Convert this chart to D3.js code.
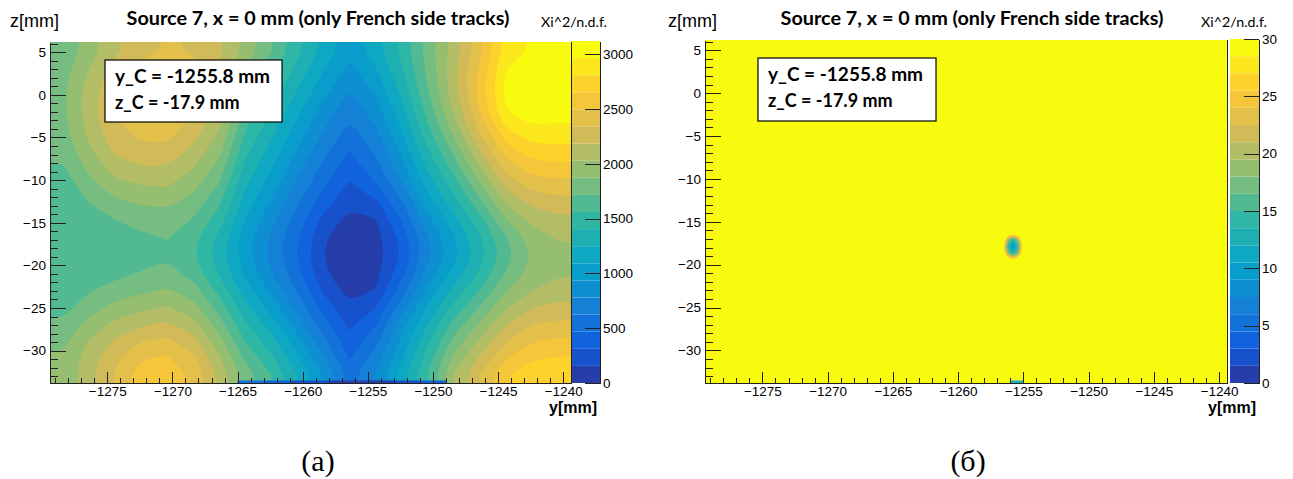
<!DOCTYPE html>
<html>
<head>
<meta charset="utf-8">
<script src="https://cdn.jsdelivr.net/npm/d3@7"></script>
<style>
  body { margin: 0; background: #fff; }
  svg { display: block; }
  .axis text { font-family: "Liberation Sans", Arial, sans-serif; font-size: 13.5px; fill: #000; }
  .axis line, .axis path { stroke: #222; shape-rendering: crispEdges; }
</style>
</head>
<body>
<svg width="1293" height="479"></svg>
<script>
// ---- data ----
const yRange = [-1279.4, -1239.4];   // y[mm] shown on the x axis
const zRange = [-33.8, 6.2];         // z[mm]
const yMajorTicks = [-1275, -1270, -1265, -1260, -1255, -1250, -1245, -1240];
const zMajorTicks = [-30, -25, -20, -15, -10, -5, 0, 5];
const barTicksA = [0, 500, 1000, 1500, 2000, 2500, 3000];
const barTicksB = [0, 5, 10, 15, 20, 25, 30];
const zMaxA = 3120;
const zMaxB = 30;
const nLevels = 20;

// chi2/ndf on a 20 x 20 grid (2 mm cells), rows from z = 5.2 (top) down to z = -32.8,
// columns from y = -1278.4 to y = -1240.4
const chi2Grid = [
  [1750, 1950, 2150, 2300, 2350, 2330, 2200, 1980, 1720, 1450, 1200,  990, 1180, 1450, 1780, 2100, 2450, 2880, 2980, 3000],
  [1800, 2020, 2240, 2380, 2420, 2380, 2210, 1890, 1630, 1360, 1110,  900, 1090, 1390, 1760, 2130, 2520, 2950, 3080, 3060],
  [1830, 2080, 2310, 2430, 2460, 2400, 2200, 1800, 1540, 1270, 1020,  810, 1000, 1320, 1720, 2130, 2560, 3000, 3110, 3080],
  [1840, 2110, 2340, 2450, 2470, 2380, 2160, 1710, 1450, 1180,  930,  720,  910, 1240, 1660, 2090, 2540, 2990, 3090, 3060],
  [1830, 2100, 2330, 2430, 2440, 2320, 2090, 1620, 1360, 1090,  840,  630,  820, 1150, 1580, 2000, 2450, 2920, 3010, 2990],
  [1800, 2060, 2280, 2370, 2380, 2230, 2000, 1530, 1270, 1000,  750,  545,  730, 1060, 1480, 1880, 2320, 2720, 2880, 2880],
  [1750, 1990, 2200, 2280, 2280, 2130, 1900, 1440, 1180,  910,  660,  455,  640,  960, 1370, 1740, 2160, 2560, 2720, 2740],
  [1690, 1900, 2090, 2160, 2160, 2020, 1800, 1350, 1090,  820,  570,  365,  550,  860, 1260, 1600, 2000, 2380, 2550, 2580],
  [1620, 1800, 1960, 2020, 2030, 1910, 1690, 1260, 1000,  730,  480,  275,  440,  740, 1140, 1460, 1830, 2200, 2380, 2420],
  [1600, 1710, 1830, 1880, 1900, 1800, 1580, 1170,  910,  640,  370,  185,  260,  580, 1010, 1320, 1660, 2020, 2210, 2270],
  [1570, 1640, 1710, 1760, 1790, 1700, 1470, 1080,  820,  550,  260,  100,  140,  470,  880, 1180, 1500, 1850, 2060, 2140],
  [1560, 1620, 1640, 1690, 1720, 1610, 1360, 1010,  750,  480,  175,   35,   90,  360,  770, 1070, 1380, 1700, 1940, 2040],
  [1560, 1610, 1620, 1670, 1700, 1580, 1320, 1000,  730,  460,  160,   15,   80,  330,  740, 1040, 1340, 1650, 1890, 1990],
  [1570, 1640, 1670, 1720, 1760, 1650, 1380, 1060,  790,  510,  180,   35,  100,  400,  830, 1130, 1420, 1720, 1930, 2010],
  [1600, 1700, 1770, 1830, 1880, 1780, 1500, 1160,  890,  600,  280,   90,  160,  540,  960, 1280, 1560, 1850, 2020, 2090],
  [1650, 1800, 1910, 1980, 2030, 1920, 1640, 1290, 1020,  720,  400,  175,  300,  700, 1100, 1440, 1720, 2000, 2170, 2220],
  [1740, 1920, 2060, 2150, 2200, 2080, 1780, 1420, 1160,  850,  530,  265,  450,  860, 1240, 1600, 1890, 2160, 2330, 2370],
  [1830, 2030, 2200, 2330, 2370, 2240, 1920, 1550, 1300,  990,  660,  355,  570,  970, 1370, 1760, 2050, 2320, 2480, 2520],
  [1890, 2110, 2310, 2480, 2510, 2380, 2040, 1680, 1430, 1120,  790,  455,  690, 1070, 1480, 1900, 2200, 2480, 2630, 2660],
  [1900, 2130, 2350, 2590, 2590, 2460, 2150, 1800, 1560, 1250,  930,  560,  790, 1170, 1560, 2030, 2340, 2640, 2750, 2780]
];

// fine grid around the minimum (0.4 mm x 0.8 mm cells), used on the 0..30 scale
const spotY = [-1257.4, -1257.0, -1256.6, -1256.2, -1255.8, -1255.4, -1255.0, -1254.6, -1254.2];
const spotZ = [-14.7, -15.5, -16.3, -17.1, -17.9, -18.7, -19.5, -20.3, -21.1];
const spotGrid = [
  [179, 140, 113,  96,  91,  96, 113, 140, 179],
  [143, 104,  77,  60,  55,  60,  77, 104, 143],
  [117,  78,  51,  34,  29,  34,  51,  78, 117],
  [101,  63,  35,  19,  13,  19,  35,  63, 101],
  [ 96,  58,  30,  14,   8,  14,  30,  58,  96],
  [101,  63,  35,  19,  13,  19,  35,  63, 101],
  [117,  78,  51,  34,  29,  34,  51,  78, 117],
  [143, 104,  77,  60,  55,  60,  77, 104, 143],
  [179, 140, 113,  96,  91,  96, 113, 140, 179]
];

// last (thin) z row along the bottom edge, 1 mm bins
const edgeY = [-1264.5, -1263.5, -1262.5, -1261.5, -1260.5, -1259.5, -1258.5, -1257.5,
               -1256.5, -1255.5, -1254.5, -1253.5, -1252.5, -1251.5, -1250.5, -1249.5];
const edgeVal = [600, 500, 420, 350, 290, 230, 170, 110, 55, 12, 50, 110, 180, 260, 350, 450];

const titleText = "Source 7, x = 0 mm (only French side tracks)";
const boxLines = ["y_C = -1255.8 mm", "z_C = -17.9 mm"];

// ROOT kBird palette
const bird = d3.scaleLinear()
  .domain([0, 0.125, 0.25, 0.375, 0.5, 0.625, 0.75, 0.875, 1])
  .range(["#352a87", "#0f5cdd", "#1481d6", "#06a4ca", "#2eb7a4", "#87bf77", "#d1bb59", "#fec832", "#f9fb0e"]);
const bandColor = (i) => bird((i + 1) / nLevels);

const svg = d3.select("svg");

const panels = [
  { id: "a", left: 50, right: 571, top: 42, bottom: 383, barL: 571, barR: 600, zMax: zMaxA, barTicks: barTicksA,
    tag: "(a)", tagX: 318, titleX: 318, zLabX: 10, xiX: 541, box: [105, 60, 177, 62], fine: false },
  { id: "b", left: 705, right: 1227, top: 40, bottom: 383, barL: 1230, barR: 1259, zMax: zMaxB, barTicks: barTicksB,
    tag: "(б)", tagX: 968, titleX: 972, zLabX: 668, xiX: 1201, box: [758, 58, 178, 63], fine: true }
];

function fitWidth(sel, w) {
  const fs = parseFloat(sel.attr("font-size"));
  const len = sel.node().getComputedTextLength();
  sel.attr("font-size", (fs * w / len).toFixed(2));
}

// repeat the border cells once so the contours run cleanly out of the frame
function padGrid(rows) {
  const r = rows.map((row) => [row[0], ...row, row[row.length - 1]]);
  return [r[0], ...r, r[r.length - 1]];
}

// rounded outline for each ring of a contour
function ringPath(line) {
  return (poly) => poly.map((ring) => line(ring.slice(0, -1))).join("");
}

panels.forEach((p) => {
  const x = d3.scaleLinear().domain(yRange).range([p.left, p.right]);
  const y = d3.scaleLinear().domain(zRange).range([p.bottom, p.top]);
  const step = p.zMax / nLevels;
  const thresholds = d3.range(nLevels).map((i) => i * step);
  const colorOf = (v) => bandColor(Math.max(0, Math.min(nLevels - 1, Math.floor(v / step))));

  svg.append("clipPath").attr("id", "clip-" + p.id)
    .append("rect").attr("x", p.left).attr("y", p.top)
    .attr("width", p.right - p.left).attr("height", p.bottom - p.top);
  const g = svg.append("g").attr("clip-path", `url(#clip-${p.id})`);

  if (!p.fine) {
    // full chi2 map
    const grid = padGrid(chi2Grid);
    const nCols = grid[0].length, nRows = grid.length;
    const cy = (yRange[1] - yRange[0]) / chi2Grid[0].length;
    const cz = (zRange[1] - zRange[0]) / chi2Grid.length;
    const gx = d3.scaleLinear().domain([0, nCols]).range([yRange[0] - cy, yRange[1] + cy]);
    const gz = d3.scaleLinear().domain([0, nRows]).range([zRange[1] + cz, zRange[0] - cz]);
    const line = d3.line().curve(d3.curveBasisClosed)
      .x((d) => x(gx(d[0]))).y((d) => y(gz(d[1])));
    const cs = d3.contours().size([nCols, nRows]).thresholds(thresholds)(grid.flat());
    g.append("rect")
      .attr("x", p.left).attr("y", p.top)
      .attr("width", p.right - p.left).attr("height", p.bottom - p.top)
      .attr("fill", bandColor(0));
    g.selectAll("path.lvl").data(cs).enter().append("path")
      .attr("class", "lvl")
      .attr("fill-rule", "evenodd")
      .attr("d", (d) => d.coordinates.map(ringPath(line)).join(""))
      .attr("fill", (d, i) => bandColor(i));
  } else {
    // everything here is above 30 -> top colour, only the minimum shows
    g.append("rect")
      .attr("x", p.left).attr("y", p.top)
      .attr("width", p.right - p.left).attr("height", p.bottom - p.top)
      .attr("fill", bandColor(nLevels - 1));
    const dy = spotY[1] - spotY[0], dz = spotZ[0] - spotZ[1];
    const gx = d3.scaleLinear().domain([0, spotY.length]).range([spotY[0] - dy / 2, spotY[spotY.length - 1] + dy / 2]);
    const gz = d3.scaleLinear().domain([0, spotZ.length]).range([spotZ[0] + dz / 2, spotZ[spotZ.length - 1] - dz / 2]);
    const line = d3.line().curve(d3.curveBasisClosed)
      .x((d) => x(gx(d[0]))).y((d) => y(gz(d[1])));
    const cs = d3.contours().size([spotY.length, spotZ.length]).thresholds(thresholds.concat([p.zMax]))(spotGrid.flat());
    // fill the holes (values below the next level), largest first
    for (let i = nLevels - 1; i >= 0; i--) {
      const holes = [];
      cs[i + 1].coordinates.forEach((poly) => poly.slice(1).forEach((r) => holes.push(r)));
      if (!holes.length) continue;
      g.append("path")
        .attr("d", holes.map((r) => line(r.slice(0, -1))).join(""))
        .attr("fill", bandColor(i));
    }
  }

  // thin last row at the bottom edge
  g.selectAll("rect.edge").data(edgeY).enter().append("rect")
    .attr("class", "edge")
    .attr("x", (d) => x(d - 0.5))
    .attr("width", (d) => x(d + 0.5) - x(d - 0.5))
    .attr("y", y(zRange[0] + 0.3))
    .attr("height", y(zRange[0]) - y(zRange[0] + 0.3))
    .attr("fill", (d, i) => colorOf(edgeVal[i]));

  // colour bar
  const c = d3.scaleLinear().domain([0, p.zMax]).range([p.bottom, p.top - 1]);
  svg.append("g").selectAll("rect").data(thresholds).enter().append("rect")
    .attr("x", p.barL).attr("width", p.barR - p.barL)
    .attr("y", (d) => c(d + step))
    .attr("height", (d) => c(d) - c(d + step))
    .attr("fill", (d, i) => bandColor(i));
  svg.append("g").attr("class", "axis")
    .attr("transform", `translate(${p.barR},0)`)
    .call(d3.axisRight(c).tickValues(p.barTicks).tickSize(-15).tickSizeOuter(0).tickPadding(3).tickFormat(d3.format("d")));

  // axes, ROOT style ticks inside the frame
  const xAx = svg.append("g").attr("class", "axis").attr("transform", `translate(0,${p.bottom})`);
  xAx.append("g").call(d3.axisBottom(x).tickValues(d3.range(-1279, -1239, 1)).tickSize(-5.5).tickSizeOuter(0).tickFormat(""));
  xAx.append("g").call(d3.axisBottom(x).tickValues(yMajorTicks).tickSize(-11).tickSizeOuter(0).tickPadding(3).tickFormat(d3.format("d")));

  const yAx = svg.append("g").attr("class", "axis").attr("transform", `translate(${p.left},0)`);
  yAx.append("g").call(d3.axisLeft(y).tickValues(d3.range(-33, 7, 1)).tickSize(-8).tickSizeOuter(0).tickFormat(""));
  yAx.append("g").call(d3.axisLeft(y).tickValues(zMajorTicks).tickSize(-16).tickSizeOuter(0).tickPadding(4).tickFormat(d3.format("d")));

  svg.append("line")
    .attr("x1", p.right).attr("x2", p.right).attr("y1", p.top).attr("y2", p.bottom)
    .attr("stroke", "#222").attr("shape-rendering", "crispEdges");

  // labels
  const t = svg.append("text").attr("x", p.titleX).attr("y", 25)
    .attr("text-anchor", "middle").attr("font-family", "Lato, 'Open Sans', sans-serif")
    .attr("font-weight", "bold").attr("font-size", 18).text(titleText);
  fitWidth(t, 383);

  const zl = svg.append("text").attr("x", p.zLabX).attr("y", 27)
    .attr("font-family", "'Liberation Sans', Arial, sans-serif").attr("font-size", 16).text("z[mm]");
  fitWidth(zl, 49);

  const xi = svg.append("text").attr("x", p.xiX).attr("y", 27)
    .attr("font-family", "Lato, sans-serif").attr("font-size", 13).text("Xi^2/n.d.f.");
  fitWidth(xi, 66);

  svg.append("text").attr("x", p.barR - 3).attr("y", 413)
    .attr("text-anchor", "end").attr("font-family", "'Liberation Sans', Arial, sans-serif")
    .attr("font-weight", "bold").attr("font-size", 16).text("y[mm]");

  const [bx, by, bw, bh] = p.box;
  svg.append("rect").attr("x", bx).attr("y", by).attr("width", bw).attr("height", bh)
    .attr("fill", "#fff").attr("stroke", "#000").attr("stroke-width", 1.2);
  boxLines.forEach((s, i) => {
    const bt = svg.append("text").attr("x", bx + 10).attr("y", by + 23 + i * 26)
      .attr("font-family", "Lato, 'Open Sans', sans-serif").attr("font-weight", "bold")
      .attr("font-size", 18).text(s);
    if (i === 0) fitWidth(bt, 155);
  });

  svg.append("text").attr("x", p.tagX).attr("y", 471)
    .attr("text-anchor", "middle").attr("font-family", "'Liberation Serif', 'DejaVu Serif', serif")
    .attr("font-size", 30).text(p.tag);
});
</script>
</body>
</html>
